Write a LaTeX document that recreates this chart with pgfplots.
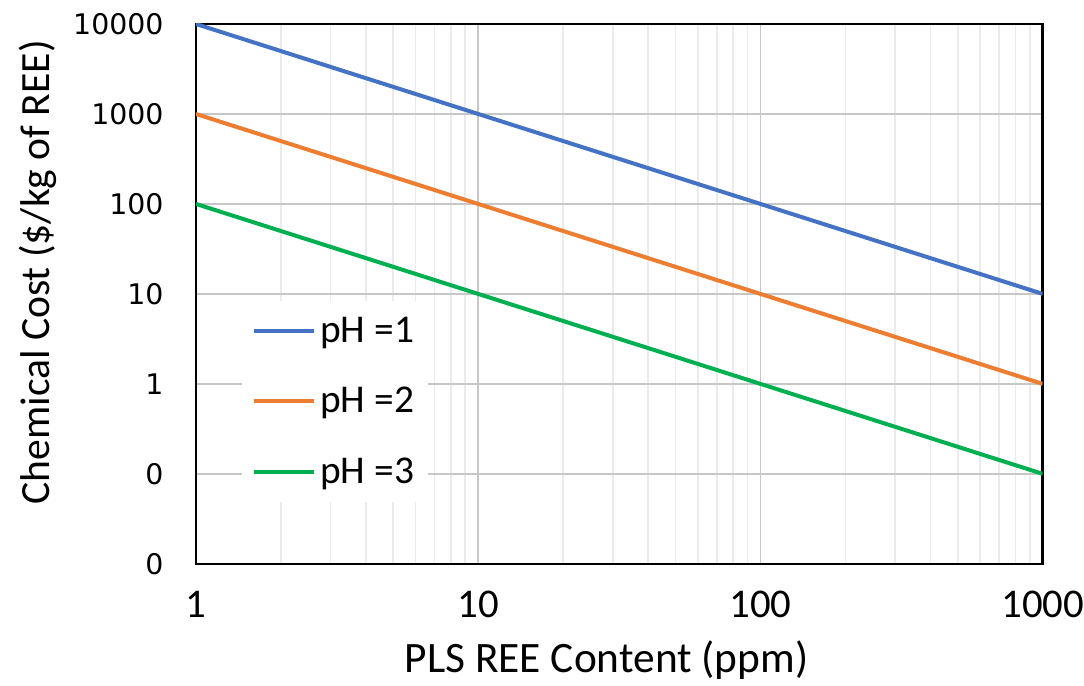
\documentclass[border=0pt]{standalone}
\usepackage{fontspec}
\setmainfont{Carlito}
\newfontfamily\dejavu{DejaVu Sans}
\usepackage{pgfplots}
\pgfplotsset{compat=1.18}
\definecolor{phone}{HTML}{4472C4}
\definecolor{phtwo}{HTML}{ED7D31}
\definecolor{phthree}{HTML}{00B050}

\begin{document}
\begin{tikzpicture}
\begin{loglogaxis}[
  scale only axis,
  width=423.5pt, height=270pt,
  xmin=1, xmax=1000, ymin=0.01, ymax=10000,
  xtick={1,10,100,1000},
  xticklabels={1,10,100,1000},
  ytick={0.01,0.1,1,10,100,1000,10000},
  yticklabels={0,0,1,10,100,1000,10000},
  xticklabel style={font=\fontsize{20.4}{22}\selectfont, anchor=center, inner sep=0pt, yshift=-20.5pt},
  yticklabel style={font=\fontsize{14.2}{16}\dejavu, anchor=east, inner sep=0pt, xshift=-16pt},
  major tick length=0pt, minor tick length=0pt,
  xmajorgrids, xminorgrids, ymajorgrids,
  major grid style={color=black!22, line width=0.8pt},
  minor grid style={color=black!8, line width=0.8pt},
  axis line style={black, line width=1.2pt},
  xlabel={PLS REE Content (ppm)},
  ylabel={Chemical Cost (\$/kg of REE)},
  xlabel style={font=\fontsize{21.7}{23}\selectfont, at={(axis description cs:0.485,-0.178)}, anchor=center},
  ylabel style={font=\fontsize{20.8}{23}\selectfont, at={(axis description cs:-0.1865,0.54)}, anchor=center},
  legend style={draw=none, fill=white, at={(axis description cs:0.0543,0.488)}, anchor=north west,
    font=\fontsize{19.7}{21}\selectfont, row sep=17pt, inner xsep=5pt, inner ysep=6pt},
  legend cell align=left,
  legend image code/.code={\draw[#1, line width=2pt] (0cm,0cm) -- (30pt,0cm);},
]
\addplot[phone, line width=2pt] coordinates {(1,10000) (1000,10)};
\addlegendentry{pH =1}
\addplot[phtwo, line width=2pt] coordinates {(1,1000) (1000,1)};
\addlegendentry{pH =2}
\addplot[phthree, line width=2pt] coordinates {(1,100) (1000,0.1)};
\addlegendentry{pH =3}
\end{loglogaxis}
\path ([shift={(-98pt,-60pt)}]current axis.south west) rectangle ([shift={(20.5pt,12pt)}]current axis.north east);
\end{tikzpicture}
\end{document}
